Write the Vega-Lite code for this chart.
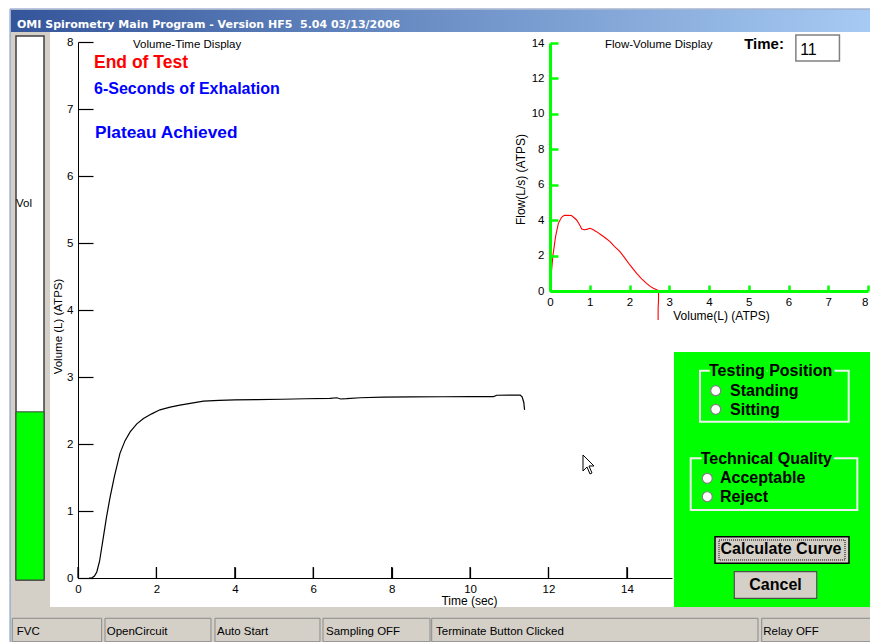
{
  "$schema": "https://vega.github.io/schema/vega-lite/v6.json",
  "width": 594,
  "height": 536,
  "autosize": {"type": "none"},
  "padding": {"left": 78, "top": 42, "right": 198, "bottom": 64},
  "background": "white",
  "config": {
    "view": {"stroke": null},
    "font": "Liberation Sans",
    "axis": {"grid": false, "labelFont": "Liberation Sans", "titleFont": "Liberation Sans", "labelColor": "black", "titleColor": "black", "titleFontWeight": "normal", "labelFontSize": 11.5, "titleFontSize": 12, "labelFlush": false, "labelOverlap": false}
  },
  "resolve": {"scale": {"x": "independent", "y": "independent"}},
  "layer": [
    {
      "layer": [
        {"data": {"values": [{"element": "window"}]}, "mark": {"type": "rect", "color": "#d4d0c8", "stroke": "#7a96c8", "strokeWidth": 1}, "encoding": {"x": {"datum": -1.734}, "x2": {"datum": 20.5}, "y": {"datum": 8.493}, "y2": {"datum": -1.0}}},
        {"data": {"values": [{"element": "title bar"}]}, "mark": {"type": "rect", "color": {"gradient": "linear", "x1": 0, "x2": 1, "y1": 0, "y2": 0, "stops": [{"offset": 0, "color": "#34559a"}, {"offset": 1, "color": "#a8ccf4"}]}}, "encoding": {"x": {"datum": -1.709}, "x2": {"datum": 20.5}, "y": {"datum": 8.478}, "y2": {"datum": 8.149}}},
        {"data": {"values": [{"label": "OMI Spirometry Main Program - Version HF5\u00a0 5.04 03/13/2006"}]}, "mark": {"type": "text", "align": "left", "baseline": "alphabetic", "color": "white", "fontWeight": "bold", "fontSize": 11, "font": "DejaVu Sans"}, "encoding": {"x": {"datum": -1.556}, "y": {"datum": 8.204}, "text": {"field": "label"}}},
        {"data": {"values": [{"element": "plot panel"}]}, "mark": {"type": "rect", "color": "white"}, "encoding": {"x": {"datum": -0.714}, "x2": {"datum": 20.5}, "y": {"datum": 8.149}, "y2": {"datum": -0.433}}},
        {"data": {"values": [{"element": "gauge frame"}]}, "mark": {"type": "rect", "color": "white", "stroke": "#404040", "strokeWidth": 1.5}, "encoding": {"x": {"datum": -1.581}, "x2": {"datum": -0.867}, "y": {"datum": 8.09}, "y2": {"datum": -0.03}}},
        {"data": {"values": [{"gauge": "Vol", "volume": 2.48}]}, "mark": {"type": "rect", "color": "#00ff00", "stroke": "#404040", "strokeWidth": 1}, "encoding": {"x": {"datum": -1.581}, "x2": {"datum": -0.867}, "y": {"field": "volume", "type": "quantitative"}, "y2": {"datum": -0.03}}},
        {"data": {"values": [{"label": "Vol"}]}, "mark": {"type": "text", "align": "left", "baseline": "alphabetic", "fontSize": 11.5, "color": "black"}, "encoding": {"x": {"datum": -1.581}, "y": {"datum": 5.542}, "text": {"field": "label"}}},
        {"data": {"values": [{"element": "control panel"}]}, "mark": {"type": "rect", "color": "#00ff00"}, "encoding": {"x": {"datum": 15.201}, "x2": {"datum": 20.5}, "y": {"datum": 3.373}, "y2": {"datum": -0.433}}},
        {"data": {"values": [{"element": "group box 1"}]}, "mark": {"type": "rect", "filled": false, "color": "#f0f0f0", "strokeWidth": 2}, "encoding": {"x": {"datum": 15.864}, "x2": {"datum": 19.657}, "y": {"datum": 3.094}, "y2": {"datum": 2.333}}},
        {"data": {"values": [{"element": "group box 2"}]}, "mark": {"type": "rect", "filled": false, "color": "#f0f0f0", "strokeWidth": 2}, "encoding": {"x": {"datum": 15.627}, "x2": {"datum": 19.877}, "y": {"datum": 1.787}, "y2": {"datum": 1.015}}},
        {"data": {"values": [{"label": "Testing Position"}]}, "encoding": {"x": {"datum": 16.094}, "y": {"datum": 3.015}, "text": {"field": "label"}}, "layer": [
          {"mark": {"type": "text", "align": "left", "baseline": "alphabetic", "fontSize": 16, "fontWeight": "bold", "color": "#00ff00", "stroke": "#00ff00", "strokeWidth": 6}},
          {"mark": {"type": "text", "align": "left", "baseline": "alphabetic", "fontSize": 16, "fontWeight": "bold", "color": "black"}}
        ]},
        {"data": {"values": [{"label": "Technical Quality"}]}, "encoding": {"x": {"datum": 15.882}, "y": {"datum": 1.701}, "text": {"field": "label"}}, "layer": [
          {"mark": {"type": "text", "align": "left", "baseline": "alphabetic", "fontSize": 16, "fontWeight": "bold", "color": "#00ff00", "stroke": "#00ff00", "strokeWidth": 6}},
          {"mark": {"type": "text", "align": "left", "baseline": "alphabetic", "fontSize": 16, "fontWeight": "bold", "color": "black"}}
        ]},
        {"data": {"values": [{"option": "Standing"}]}, "encoding": {"x": {"datum": 16.265}, "y": {"datum": 2.796}}, "layer": [
          {"mark": {"type": "point", "shape": "circle", "filled": true, "fill": "white", "stroke": "#808080", "strokeWidth": 1.2, "size": 100, "opacity": 1}},
          {"mark": {"type": "text", "align": "left", "baseline": "alphabetic", "dx": 14.3, "dy": 5.3, "fontSize": 16, "fontWeight": "bold", "color": "black"}, "encoding": {"text": {"field": "option"}}}
        ]},
        {"data": {"values": [{"option": "Sitting"}]}, "encoding": {"x": {"datum": 16.265}, "y": {"datum": 2.518}}, "layer": [
          {"mark": {"type": "point", "shape": "circle", "filled": true, "fill": "white", "stroke": "#808080", "strokeWidth": 1.2, "size": 100, "opacity": 1}},
          {"mark": {"type": "text", "align": "left", "baseline": "alphabetic", "dx": 14.3, "dy": 5.7, "fontSize": 16, "fontWeight": "bold", "color": "black"}, "encoding": {"text": {"field": "option"}}}
        ]},
        {"data": {"values": [{"option": "Acceptable"}]}, "encoding": {"x": {"datum": 16.05}, "y": {"datum": 1.488}}, "layer": [
          {"mark": {"type": "point", "shape": "circle", "filled": true, "fill": "white", "stroke": "#808080", "strokeWidth": 1.2, "size": 100, "opacity": 1}},
          {"mark": {"type": "text", "align": "left", "baseline": "alphabetic", "dx": 12.7, "dy": 5, "fontSize": 16, "fontWeight": "bold", "color": "black"}, "encoding": {"text": {"field": "option"}}}
        ]},
        {"data": {"values": [{"option": "Reject"}]}, "encoding": {"x": {"datum": 16.05}, "y": {"datum": 1.213}}, "layer": [
          {"mark": {"type": "point", "shape": "circle", "filled": true, "fill": "white", "stroke": "#808080", "strokeWidth": 1.2, "size": 100, "opacity": 1}},
          {"mark": {"type": "text", "align": "left", "baseline": "alphabetic", "dx": 12.7, "dy": 5, "fontSize": 16, "fontWeight": "bold", "color": "black"}, "encoding": {"text": {"field": "option"}}}
        ]},
        {"data": {"values": [{"button": "Calculate Curve"}]}, "layer": [
          {"mark": {"type": "rect", "color": "#d4d0c8", "stroke": "black", "strokeWidth": 1.5}, "encoding": {"x": {"datum": 16.247}, "x2": {"datum": 19.664}, "y": {"datum": 0.616}, "y2": {"datum": 0.219}}},
          {"mark": {"type": "rect", "filled": false, "color": "black", "strokeWidth": 1, "strokeDash": [1, 1]}, "encoding": {"x": {"datum": 16.349}, "x2": {"datum": 19.562}, "y": {"datum": 0.567}, "y2": {"datum": 0.269}}},
          {"mark": {"type": "text", "align": "center", "baseline": "alphabetic", "fontSize": 16, "fontWeight": "bold", "color": "black"}, "encoding": {"x": {"datum": 17.93}, "y": {"datum": 0.358}, "text": {"field": "button"}}}
        ]},
        {"data": {"values": [{"button": "Cancel"}]}, "layer": [
          {"mark": {"type": "rect", "color": "#d4d0c8", "stroke": "#505050", "strokeWidth": 1.2}, "encoding": {"x": {"datum": 16.739}, "x2": {"datum": 18.841}, "y": {"datum": 0.094}, "y2": {"datum": -0.303}}},
          {"mark": {"type": "text", "align": "center", "baseline": "alphabetic", "fontSize": 16, "fontWeight": "bold", "color": "black"}, "encoding": {"x": {"datum": 17.79}, "y": {"datum": -0.179}, "text": {"field": "button"}}}
        ]},
        {"data": {"values": [{"label": "Time:"}]}, "mark": {"type": "text", "align": "left", "baseline": "alphabetic", "fontSize": 15, "fontWeight": "bold", "color": "black"}, "encoding": {"x": {"datum": 16.99}, "y": {"datum": 7.896}, "text": {"field": "label"}}},
        {"data": {"values": [{"seconds": "11"}]}, "layer": [
          {"mark": {"type": "rect", "color": "white", "stroke": "#808080", "strokeWidth": 1.5}, "encoding": {"x": {"datum": 18.309}, "x2": {"datum": 19.421}, "y": {"datum": 8.104}, "y2": {"datum": 7.716}}},
          {"mark": {"type": "text", "align": "left", "baseline": "alphabetic", "fontSize": 16, "color": "black"}, "encoding": {"x": {"datum": 18.418}, "y": {"datum": 7.806}, "text": {"field": "seconds"}}}
        ]},
        {"data": {"values": [{"status": "FVC"}]}, "encoding": {"x": {"datum": -1.676}, "y": {"datum": -0.601}}, "layer": [
          {"mark": {"type": "rect", "filled": false, "color": "#8a8a8a", "strokeWidth": 1}, "encoding": {"x2": {"datum": 0.604}, "y2": {"datum": -0.951}}},
          {"mark": {"type": "text", "align": "left", "baseline": "alphabetic", "dx": 4.4, "dy": 16.4, "fontSize": 11.5, "color": "black"}, "encoding": {"text": {"field": "status"}}}
        ]},
        {"data": {"values": [{"status": "OpenCircuit"}]}, "encoding": {"x": {"datum": 0.689}, "y": {"datum": -0.601}}, "layer": [
          {"mark": {"type": "rect", "filled": false, "color": "#8a8a8a", "strokeWidth": 1}, "encoding": {"x2": {"datum": 3.392}, "y2": {"datum": -0.951}}},
          {"mark": {"type": "text", "align": "left", "baseline": "alphabetic", "dx": 1.7, "dy": 16.4, "fontSize": 11.5, "color": "black"}, "encoding": {"text": {"field": "status"}}}
        ]},
        {"data": {"values": [{"status": "Auto Start"}]}, "encoding": {"x": {"datum": 3.494}, "y": {"datum": -0.601}}, "layer": [
          {"mark": {"type": "rect", "filled": false, "color": "#8a8a8a", "strokeWidth": 1}, "encoding": {"x2": {"datum": 6.172}, "y2": {"datum": -0.951}}},
          {"mark": {"type": "text", "align": "left", "baseline": "alphabetic", "dx": 2, "dy": 16.4, "fontSize": 11.5, "color": "black"}, "encoding": {"text": {"field": "status"}}}
        ]},
        {"data": {"values": [{"status": "Sampling OFF"}]}, "encoding": {"x": {"datum": 6.249}, "y": {"datum": -0.601}}, "layer": [
          {"mark": {"type": "rect", "filled": false, "color": "#8a8a8a", "strokeWidth": 1}, "encoding": {"x2": {"datum": 8.978}, "y2": {"datum": -0.951}}},
          {"mark": {"type": "text", "align": "left", "baseline": "alphabetic", "dx": 3, "dy": 16.4, "fontSize": 11.5, "color": "black"}, "encoding": {"text": {"field": "status"}}}
        ]},
        {"data": {"values": [{"status": "Terminate Button Clicked"}]}, "encoding": {"x": {"datum": 9.021}, "y": {"datum": -0.601}}, "layer": [
          {"mark": {"type": "rect", "filled": false, "color": "#8a8a8a", "strokeWidth": 1}, "encoding": {"x2": {"datum": 17.343}, "y2": {"datum": -0.951}}},
          {"mark": {"type": "text", "align": "left", "baseline": "alphabetic", "dx": 4.3, "dy": 16.4, "fontSize": 11.5, "color": "black"}, "encoding": {"text": {"field": "status"}}}
        ]},
        {"data": {"values": [{"status": "Relay OFF"}]}, "encoding": {"x": {"datum": 17.438}, "y": {"datum": -0.601}}, "layer": [
          {"mark": {"type": "rect", "filled": false, "color": "#8a8a8a", "strokeWidth": 1}, "encoding": {"x2": {"datum": 20.5}, "y2": {"datum": -0.951}}},
          {"mark": {"type": "text", "align": "left", "baseline": "alphabetic", "dx": 1.6, "dy": 16.4, "fontSize": 11.5, "color": "black"}, "encoding": {"text": {"field": "status"}}}
        ]},
        {"data": {"values": [{"label": "Volume-Time Display"}]}, "mark": {"type": "text", "align": "left", "baseline": "alphabetic", "fontSize": 11.5, "color": "black"}, "encoding": {"x": {"datum": 1.403}, "y": {"datum": 7.91}, "text": {"field": "label"}}},
        {"data": {"values": [{"label": "End of Test"}]}, "mark": {"type": "text", "align": "left", "baseline": "alphabetic", "fontSize": 17.5, "fontWeight": "bold", "color": "#ff0000"}, "encoding": {"x": {"datum": 0.408}, "y": {"datum": 7.612}, "text": {"field": "label"}}},
        {"data": {"values": [{"label": "6-Seconds of Exhalation"}]}, "mark": {"type": "text", "align": "left", "baseline": "alphabetic", "fontSize": 16, "fontWeight": "bold", "color": "#0000ff"}, "encoding": {"x": {"datum": 0.408}, "y": {"datum": 7.219}, "text": {"field": "label"}}},
        {"data": {"values": [{"label": "Plateau Achieved"}]}, "mark": {"type": "text", "align": "left", "baseline": "alphabetic", "fontSize": 17.3, "fontWeight": "bold", "color": "#0000ff"}, "encoding": {"x": {"datum": 0.434}, "y": {"datum": 6.563}, "text": {"field": "label"}}},
        {"data": {"values": [{"element": "mouse pointer"}]}, "mark": {"type": "point", "shape": "M-0.6,-1L-0.6,0.6L-0.2,0.2L0.1,0.9L0.3,0.8L0,0.1L0.5,0.1Z", "filled": true, "fill": "white", "stroke": "black", "strokeWidth": 1, "size": 400, "opacity": 1}, "encoding": {"x": {"datum": 13.033}, "y": {"datum": 1.687}}},
        {"data": {"values": [{"tick": 0}, {"tick": 2}, {"tick": 4}, {"tick": 6}, {"tick": 8}, {"tick": 10}, {"tick": 12}, {"tick": 14}]}, "mark": {"type": "rule", "color": "black", "strokeWidth": 1.2}, "encoding": {"x": {"field": "tick", "type": "quantitative"}, "y": {"datum": 0}, "y2": {"datum": 0.164}}},
        {
          "data": {"values": [
            {"time": 0.28, "volume": 0}, {"time": 0.35, "volume": 0}, {"time": 0.42, "volume": 0.03}, {"time": 0.48, "volume": 0.09},
            {"time": 0.55, "volume": 0.25}, {"time": 0.65, "volume": 0.62}, {"time": 0.73, "volume": 0.92}, {"time": 0.82, "volume": 1.21},
            {"time": 0.93, "volume": 1.52}, {"time": 1.07, "volume": 1.86}, {"time": 1.2, "volume": 2.05}, {"time": 1.33, "volume": 2.18},
            {"time": 1.5, "volume": 2.3}, {"time": 1.67, "volume": 2.38}, {"time": 1.88, "volume": 2.45}, {"time": 2.09, "volume": 2.51},
            {"time": 2.35, "volume": 2.55}, {"time": 2.6, "volume": 2.58}, {"time": 2.9, "volume": 2.61}, {"time": 3.2, "volume": 2.64},
            {"time": 3.6, "volume": 2.652}, {"time": 4.0, "volume": 2.658}, {"time": 4.56, "volume": 2.662}, {"time": 5.2, "volume": 2.668},
            {"time": 5.8, "volume": 2.675}, {"time": 6.43, "volume": 2.68}, {"time": 6.6, "volume": 2.69}, {"time": 6.7, "volume": 2.672},
            {"time": 6.85, "volume": 2.676}, {"time": 7.2, "volume": 2.69}, {"time": 7.78, "volume": 2.7}, {"time": 8.5, "volume": 2.703},
            {"time": 9.3, "volume": 2.705}, {"time": 10.0, "volume": 2.706}, {"time": 10.6, "volume": 2.708}, {"time": 10.68, "volume": 2.728},
            {"time": 11.0, "volume": 2.73}, {"time": 11.28, "volume": 2.73}, {"time": 11.33, "volume": 2.7}, {"time": 11.37, "volume": 2.62},
            {"time": 11.39, "volume": 2.51}
          ]},
          "mark": {"type": "line", "color": "black", "strokeWidth": 1.2},
          "encoding": {
            "x": {"field": "time", "type": "quantitative", "scale": {"domain": [0, 15.15], "nice": false, "zero": false},
              "axis": {"zindex": 2, "title": "Time (sec)", "values": [0, 2, 4, 6, 8, 10, 12, 14], "format": "d", "tickSize": -11, "tickColor": "black", "tickWidth": 1.2, "domainColor": "black", "domainWidth": 1, "labelPadding": 16, "titleX": 391, "titleY": 17, "titleFontSize": 12}},
            "y": {"field": "volume", "type": "quantitative", "scale": {"domain": [0, 8], "nice": false, "zero": false},
              "axis": {"zindex": 2, "title": "Volume (L) (ATPS)", "values": [0, 1, 2, 3, 4, 5, 6, 7, 8], "format": "d", "tickSize": -15, "tickColor": "black", "tickWidth": 1.2, "domainColor": "black", "domainWidth": 1, "labelPadding": 20, "titleX": -15, "titleY": 284, "titleFontSize": 11.5}},
            "order": {"value": null}
          }
        }
      ]
    },
    {
      "layer": [
        {
          "data": {"values": [
            {"volume": 0, "flow": 0}, {"volume": 0.03, "flow": 0.9}, {"volume": 0.07, "flow": 1.94}, {"volume": 0.14, "flow": 3.07},
            {"volume": 0.21, "flow": 3.82}, {"volume": 0.29, "flow": 4.16}, {"volume": 0.36, "flow": 4.27}, {"volume": 0.42, "flow": 4.28},
            {"volume": 0.54, "flow": 4.26}, {"volume": 0.6, "flow": 4.15}, {"volume": 0.67, "flow": 4.01}, {"volume": 0.74, "flow": 3.75},
            {"volume": 0.8, "flow": 3.5}, {"volume": 0.86, "flow": 3.46}, {"volume": 0.92, "flow": 3.48}, {"volume": 1.01, "flow": 3.54},
            {"volume": 1.09, "flow": 3.46}, {"volume": 1.17, "flow": 3.35}, {"volume": 1.3, "flow": 3.15}, {"volume": 1.42, "flow": 2.95},
            {"volume": 1.51, "flow": 2.79}, {"volume": 1.62, "flow": 2.52}, {"volume": 1.76, "flow": 2.22}, {"volume": 1.88, "flow": 1.87},
            {"volume": 2.01, "flow": 1.47}, {"volume": 2.1, "flow": 1.22}, {"volume": 2.18, "flow": 1.0}, {"volume": 2.3, "flow": 0.7},
            {"volume": 2.43, "flow": 0.43}, {"volume": 2.52, "flow": 0.26}, {"volume": 2.6, "flow": 0.15}, {"volume": 2.67, "flow": 0.08},
            {"volume": 2.72, "flow": 0.03}, {"volume": 2.73, "flow": 0}, {"volume": 2.73, "flow": -0.5}, {"volume": 2.72, "flow": -1.0},
            {"volume": 2.72, "flow": -1.64}
          ]},
          "mark": {"type": "line", "color": "#ff0000", "strokeWidth": 1.1},
          "encoding": {
            "x": {"field": "volume", "type": "quantitative", "scale": {"domain": [0, 8], "range": [472, 790], "nice": false, "zero": false},
              "axis": {"zindex": 2, "orient": "bottom", "offset": -287, "title": "Volume(L) (ATPS)", "values": [0, 1, 2, 3, 4, 5, 6, 7, 8], "format": "d", "labelAlign": {"condition": {"test": "datum.value == 8", "value": "right"}, "value": "center"}, "domainColor": "#00ff00", "domainWidth": 3, "tickColor": "#00ff00", "tickWidth": 2.5, "tickSize": -6, "labelPadding": 11, "titleX": 643, "titleY": 19, "titleFontSize": 12}},
            "y": {"field": "flow", "type": "quantitative", "scale": {"domain": [0, 14], "range": [249, 1], "nice": false, "zero": false},
              "axis": {"zindex": 2, "orient": "left", "offset": -472, "title": "Flow(L/s) (ATPS)", "values": [0, 2, 4, 6, 8, 10, 12, 14], "format": "d", "domainColor": "#00ff00", "domainWidth": 3, "tickColor": "#00ff00", "tickWidth": 2.5, "tickSize": -8, "labelPadding": 14, "titleX": -23, "titleY": 137, "titleFontSize": 12}},
            "order": {"value": null}
          }
        },
        {"data": {"values": [{"label": "Flow-Volume Display"}]}, "mark": {"type": "text", "align": "left", "baseline": "alphabetic", "fontSize": 11.5, "color": "black"}, "encoding": {"x": {"datum": 1.384}, "y": {"datum": 13.72}, "text": {"field": "label"}}}
      ]
    }
  ]
}
